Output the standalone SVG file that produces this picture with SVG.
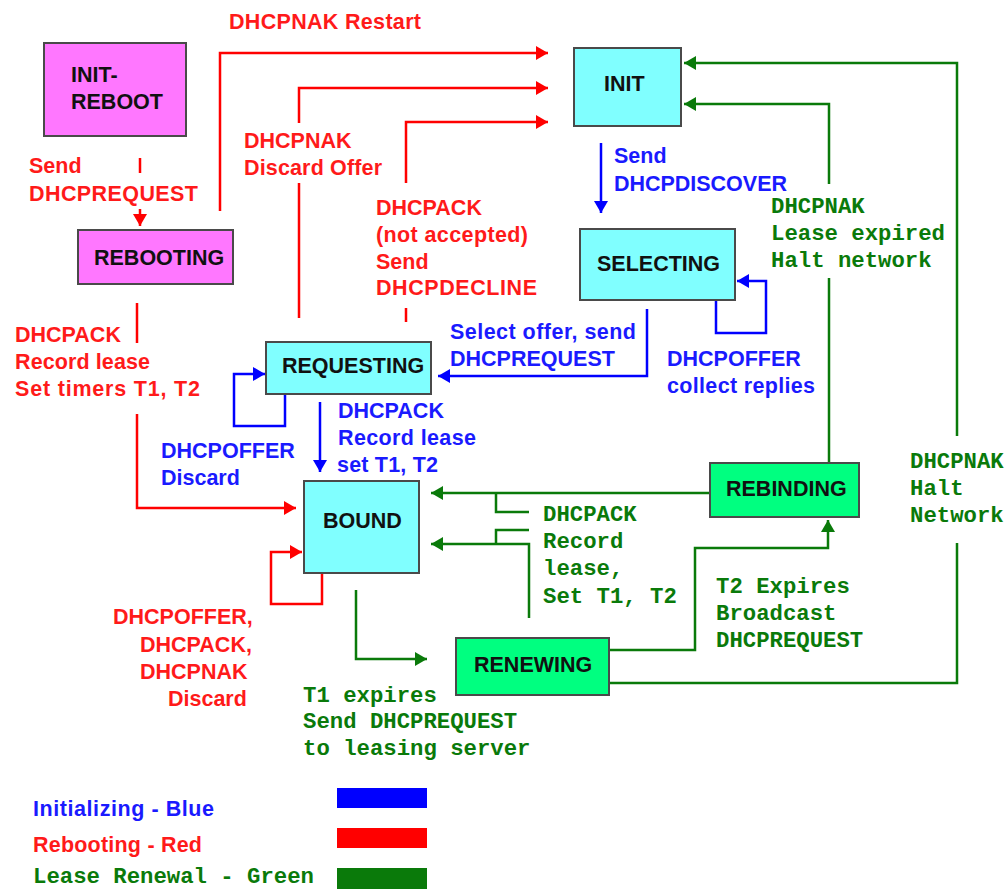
<svg xmlns="http://www.w3.org/2000/svg" width="1008" height="890" viewBox="0 0 1008 890">
<style>
.box{stroke:#4a4a4a;stroke-width:2}
.cy{fill:#80ffff}.pk{fill:#ff77ff}.gr{fill:#00ff80}
.nt{font-family:"Liberation Sans",Arial,sans-serif;font-size:21.5px;font-weight:bold;fill:#111}
.ls{font-family:"Liberation Sans",Arial,sans-serif;font-size:21.5px;font-weight:bold}
.lm{font-family:"Liberation Mono","Courier New",monospace;font-size:22.3px;font-weight:bold;fill:#0a7a0a}
.r{fill:#ff1a1a}.b{fill:#1a1aff}
.cr{stroke:#ff0000;stroke-width:2.5;fill:none}
.cb{stroke:#0000ff;stroke-width:2.5;fill:none}
.cg{stroke:#0a7a0a;stroke-width:2.5;fill:none}
</style>
<defs>
<marker id="ar" viewBox="0 0 10 10" refX="10" refY="5" markerWidth="12" markerHeight="14" markerUnits="userSpaceOnUse" orient="auto" preserveAspectRatio="none"><path d="M0,0 L10,5 L0,10 z" fill="#ff0000"/></marker>
<marker id="ab" viewBox="0 0 10 10" refX="10" refY="5" markerWidth="12" markerHeight="14" markerUnits="userSpaceOnUse" orient="auto" preserveAspectRatio="none"><path d="M0,0 L10,5 L0,10 z" fill="#0000ff"/></marker>
<marker id="ag" viewBox="0 0 10 10" refX="10" refY="5" markerWidth="12" markerHeight="14" markerUnits="userSpaceOnUse" orient="auto" preserveAspectRatio="none"><path d="M0,0 L10,5 L0,10 z" fill="#0a7a0a"/></marker>
</defs>
<rect width="1008" height="890" fill="#fff"/>

<g id="connectors">
<path class="cr" d="M220,211 V53 H548" marker-end="url(#ar)"/>
<path class="cr" d="M299,318 V183"/>
<path class="cr" d="M299,123 V88 H548" marker-end="url(#ar)"/>
<path class="cr" d="M406,322 V308"/>
<path class="cr" d="M406,183 V122 H548" marker-end="url(#ar)"/>
<path class="cr" d="M140,158 V173"/>
<path class="cr" d="M140,209 V226" marker-end="url(#ar)"/>
<path class="cr" d="M137,303 V343"/>
<path class="cr" d="M137,414 V508 H296" marker-end="url(#ar)"/>
<path class="cr" d="M322,573 V604 H271 V552 H302" marker-end="url(#ar)"/>
<path class="cb" d="M601,143 V213" marker-end="url(#ab)"/>
<path class="cb" d="M716,300 V333 H766 V281 H737" marker-end="url(#ab)"/>
<path class="cb" d="M647,309 V376 H438" marker-end="url(#ab)"/>
<path class="cb" d="M285,394 V426 H234 V374 H265" marker-end="url(#ab)"/>
<path class="cb" d="M320,402 V472" marker-end="url(#ab)"/>
<path class="cg" d="M957,436 V63 H684" marker-end="url(#ag)"/>
<path class="cg" d="M957,543 V683 H609"/>
<path class="cg" d="M829,463 V278"/>
<path class="cg" d="M829,184 V104 H684" marker-end="url(#ag)"/>
<path class="cg" d="M710,493 H431" marker-end="url(#ag)"/>
<path class="cg" d="M496,493 V512 H529"/>
<path class="cg" d="M529,618 V544 H431" marker-end="url(#ag)"/>
<path class="cg" d="M496,544 V530 H529"/>
<path class="cg" d="M609,650 H695 V548 H828 V520" marker-end="url(#ag)"/>
<path class="cg" d="M356,590 V659 H427" marker-end="url(#ag)"/>
</g>

<g id="init-reboot"><rect class="box pk" x="44" y="43" width="142" height="93"/><text class="nt" x="71" y="82">INIT-</text><text class="nt" x="71" y="109">REBOOT</text></g>
<g id="rebooting"><rect class="box pk" x="78" y="230" width="155" height="54"/><text class="nt" x="94" y="265">REBOOTING</text></g>
<g id="init"><rect class="box cy" x="574" y="48" width="107" height="78"/><text class="nt" x="604" y="91">INIT</text></g>
<g id="selecting"><rect class="box cy" x="580" y="229" width="155" height="71"/><text class="nt" x="597" y="271">SELECTING</text></g>
<g id="requesting"><rect class="box cy" x="266" y="342" width="165" height="52"/><text class="nt" x="282" y="373">REQUESTING</text></g>
<g id="bound"><rect class="box cy" x="304" y="481" width="115" height="92"/><text class="nt" x="323" y="528">BOUND</text></g>
<g id="rebinding"><rect class="box gr" x="710" y="463" width="149" height="54"/><text class="nt" x="726" y="496">REBINDING</text></g>
<g id="renewing"><rect class="box gr" x="456" y="638" width="153" height="57"/><text class="nt" x="474" y="672">RENEWING</text></g>

<g id="labels">
<text class="ls r" x="229" y="29" textLength="192">DHCPNAK Restart</text>
<text class="ls r" x="244" y="148">DHCPNAK</text>
<text class="ls r" x="244" y="175" textLength="138">Discard Offer</text>
<text class="ls r" x="29" y="173">Send</text>
<text class="ls r" x="29" y="201" textLength="169">DHCPREQUEST</text>
<text class="ls r" x="376" y="215">DHCPACK</text>
<text class="ls r" x="376" y="242" textLength="152">(not accepted)</text>
<text class="ls r" x="376" y="269">Send</text>
<text class="ls r" x="376" y="295" textLength="161">DHCPDECLINE</text>
<text class="ls r" x="15" y="342">DHCPACK</text>
<text class="ls r" x="15" y="369" textLength="135">Record lease</text>
<text class="ls r" x="15" y="396" textLength="185">Set timers T1, T2</text>
<text class="ls r" x="113" y="624">DHCPOFFER,</text>
<text class="ls r" x="140" y="652">DHCPACK,</text>
<text class="ls r" x="140" y="679">DHCPNAK</text>
<text class="ls r" x="168" y="706">Discard</text>

<text class="ls b" x="614" y="163">Send</text>
<text class="ls b" x="614" y="191" textLength="173">DHCPDISCOVER</text>
<text class="ls b" x="450" y="339" textLength="186">Select offer, send</text>
<text class="ls b" x="450" y="366">DHCPREQUEST</text>
<text class="ls b" x="667" y="366">DHCPOFFER</text>
<text class="ls b" x="667" y="393" textLength="148">collect replies</text>
<text class="ls b" x="161" y="458">DHCPOFFER</text>
<text class="ls b" x="161" y="485">Discard</text>
<text class="ls b" x="338" y="418">DHCPACK</text>
<text class="ls b" x="338" y="445" textLength="138">Record lease</text>
<text class="ls b" x="337" y="472" textLength="101">set T1, T2</text>

<text class="lm" x="771" y="213">DHCPNAK</text>
<text class="lm" x="771" y="240">Lease expired</text>
<text class="lm" x="771" y="267">Halt network</text>
<text class="lm" x="910" y="468">DHCPNAK</text>
<text class="lm" x="910" y="495">Halt</text>
<text class="lm" x="910" y="522">Network</text>
<text class="lm" x="543" y="521">DHCPACK</text>
<text class="lm" x="543" y="548">Record</text>
<text class="lm" x="543" y="575">lease,</text>
<text class="lm" x="543" y="603">Set T1, T2</text>
<text class="lm" x="716" y="593">T2 Expires</text>
<text class="lm" x="716" y="620">Broadcast</text>
<text class="lm" x="716" y="647">DHCPREQUEST</text>
<text class="lm" x="303" y="702">T1 expires</text>
<text class="lm" x="303" y="728">Send DHCPREQUEST</text>
<text class="lm" x="303" y="755">to leasing server</text>
</g>

<g id="legend">
<text class="ls b" x="33" y="816" textLength="181">Initializing - Blue</text>
<text class="ls r" x="33" y="852" textLength="169">Rebooting - Red</text>
<text class="lm" x="33" y="883">Lease Renewal - Green</text>
<rect x="337" y="788" width="90" height="20" fill="#0000ff"/>
<rect x="337" y="828" width="90" height="20" fill="#ff0000"/>
<rect x="337" y="868" width="90" height="21" fill="#0a7a0a"/>
</g>
</svg>
